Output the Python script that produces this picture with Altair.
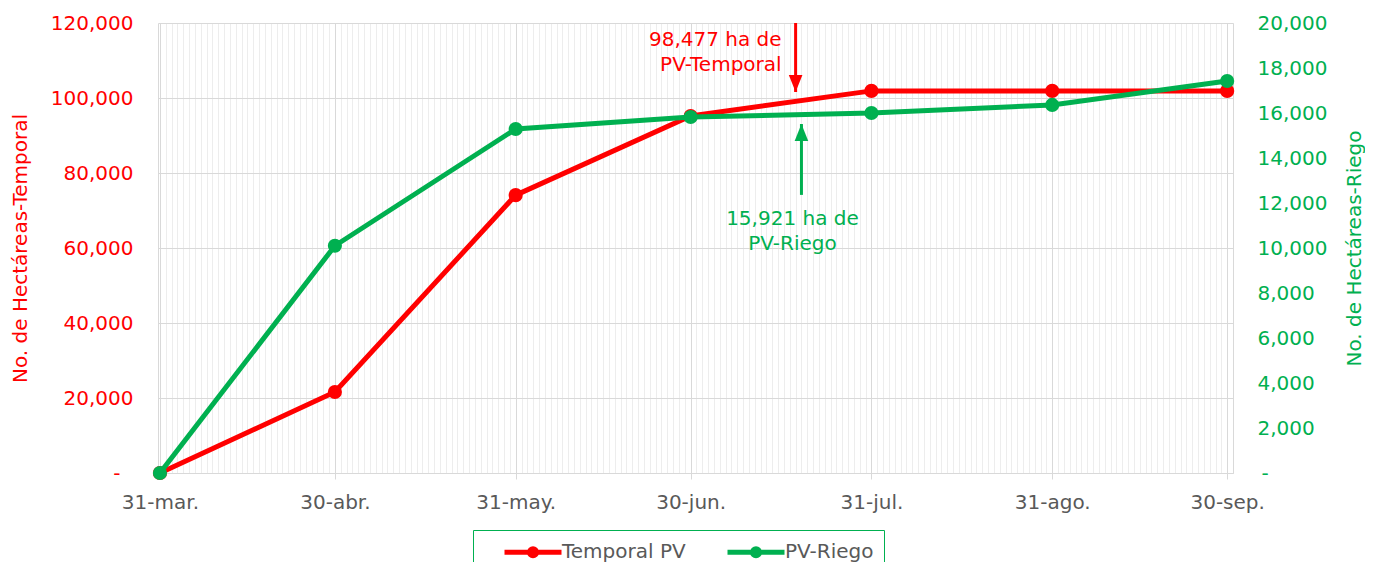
import altair as alt
import pandas as pd

# ---- data ----
fechas = ["2023-03-31", "2023-04-30", "2023-05-31", "2023-06-30",
          "2023-07-31", "2023-08-31", "2023-09-30"]
temporal = [0, 21600, 74100, 95200, 101900, 101900, 101900]
riego = [0, 10100, 15290, 15820, 16000, 16360, 17420]
series = ["Temporal PV", "PV-Riego"]
colores = ["#FF0000", "#00B050"]
meses = ["ene", "feb", "mar", "abr", "may", "jun", "jul", "ago", "sep", "oct", "nov", "dic"]

ann_fecha_t = "2023-07-18"
ann_texto_t = "98,477 ha de\nPV-Temporal"
ann_fecha_r = "2023-07-19"
ann_texto_r = "15,921 ha de\nPV-Riego"

ROJO, VERDE, GRIS = colores[0], colores[1], "#595959"
FONT = "DejaVu Sans"
FS = 20

df_t = pd.DataFrame({"fecha": fechas, "valor": temporal, "serie": series[0]})
df_r = pd.DataFrame({"fecha": fechas, "valor": riego, "serie": series[1]})
ann_t = pd.DataFrame({"fecha": [ann_fecha_t], "y0": [120000], "y1": [101600],
                      "yt": [115500], "texto": [ann_texto_t]})
ann_r = pd.DataFrame({"fecha": [ann_fecha_r], "y0": [12360], "y1": [15510],
                      "yt": [11290], "texto": [ann_texto_r]})

xscale = alt.Scale(type="utc", domain=[
    alt.DateTime(year=2023, month=3, date=30, hours=16, utc=True),
    alt.DateTime(year=2023, month=10, date=1, hours=0, utc=True)])

tick_vals = [alt.DateTime(year=int(f[:4]), month=int(f[5:7]), date=int(f[8:]), utc=True) for f in fechas]
mes_js = "[" + ",".join("'%s'" % m for m in meses) + "]"

axis_minor = alt.Axis(orient="bottom", tickCount=alt.TimeIntervalStep(interval="day", step=1),
                      labels=False, ticks=False, domain=False, grid=True,
                      gridColor="#EDEDED", title=None)
axis_main = alt.Axis(orient="bottom", values=tick_vals,
                     labelExpr="utcdate(datum.value) + '-' + " + mes_js + "[utcmonth(datum.value)] + '.'",
                     grid=True, gridColor="#D9D9D9", ticks=True, tickColor="#D9D9D9", tickSize=6,
                     tickOpacity={"condition": {"test": "utcmonth(datum.value) === 2", "value": 0}, "value": 1},
                     domain=True, domainColor="#D9D9D9", labelColor=GRIS, labelFontSize=FS,
                     labelFont=FONT, labelPadding=13, labelOverlap=False, labelFlush=False, title=None)

yscale_t = alt.Scale(domain=[0, 120000], nice=False)
yscale_r = alt.Scale(domain=[0, 20000], nice=False)

axis_t = alt.Axis(
    orient="left", values=list(range(0, 120001, 20000)),
    labelExpr="datum.value == 0 ? '-' : format(datum.value, ',')",
    labelColor=ROJO, labelFontSize=FS, labelFont=FONT,
    labelPadding={"condition": {"test": "datum.value === 0", "value": 38}, "value": 25},
    ticks=False, grid=True, gridColor="#D9D9D9", domain=True, domainColor="#D9D9D9",
    title="No. de Hectáreas-Temporal", titleColor=ROJO, titleFontSize=FS, titleFont=FONT,
    titleFontWeight="normal", titleAngle=270, titleX=-138, titleY=225,
    titleAlign="center", titleBaseline="middle")
axis_r = alt.Axis(
    orient="right", values=list(range(0, 20001, 2000)),
    labelExpr="datum.value == 0 ? '-' : format(datum.value, ',')",
    labelColor=VERDE, labelFontSize=FS, labelFont=FONT,
    labelPadding={"condition": {"test": "datum.value === 0", "value": 28}, "value": 24},
    ticks=False, grid=False, domain=True, domainColor="#D9D9D9",
    title="No. de Hectáreas-Riego", titleColor=VERDE, titleFontSize=FS, titleFont=FONT,
    titleFontWeight="normal", titleAngle=270, titleX=121, titleY=225,
    titleAlign="center", titleBaseline="middle")

color_scale = alt.Scale(domain=series, range=colores)
leg_symbol = "M-3,0L3,0M0.37,0A0.37,0.37,0,1,1,-0.37,0A0.37,0.37,0,1,1,0.37,0Z"
legend = alt.Legend(orient="none", legendX=315, legendY=507, direction="horizontal",
                    title=None, symbolType=leg_symbol, symbolSize=361, symbolStrokeWidth=5,
                    labelFontSize=FS, labelFont=FONT, labelColor=GRIS, labelOffset=17,
                    strokeColor=VERDE, padding=10, symbolOffset=38, columnPadding=20)


def capa(df, x_axis, y_axis, ann, yscale, color, text_dx, arrow_down):
    X = lambda f: alt.X(f + ":T", scale=xscale, axis=x_axis)
    Y = lambda f: alt.Y(f + ":Q", scale=yscale, axis=y_axis)
    line = alt.Chart(df).mark_line(strokeWidth=5, color=color).encode(
        x=X("fecha"), y=Y("valor"))
    pts = alt.Chart(df).mark_point(filled=True, size=200, opacity=1).encode(
        x=X("fecha"), y=Y("valor"),
        fill=alt.Fill("serie:N", scale=color_scale, legend=legend),
        stroke=alt.Stroke("serie:N", scale=color_scale, legend=legend),
        strokeWidth=alt.value(0))
    shaft = alt.Chart(ann).mark_rule(strokeWidth=3, color=color).encode(
        x=X("fecha"), y=Y("y0"), y2="y1:Q")
    head_shape = "M-0.8,-2L0.8,-2L0,0Z" if arrow_down else "M-0.8,2L0.8,2L0,0Z"
    head = alt.Chart(ann).mark_point(shape=head_shape, filled=True, size=289, opacity=1,
                                     color=color, strokeWidth=0).encode(
        x=X("fecha"), y=Y("y1"))
    txt = alt.Chart(ann).mark_text(color=color, fontSize=FS, font=FONT, lineBreak="\n",
                                   lineHeight=25, dx=text_dx,
                                   align="right" if arrow_down else "center",
                                   baseline="middle").encode(
        x=X("fecha"), y=Y("yt"), text="texto:N")
    return alt.layer(line, pts, shaft, head, txt)


izq = capa(df_t, axis_minor, axis_t, ann_t, yscale_t, ROJO, -14, True)
der = capa(df_r, axis_main, axis_r, ann_r, yscale_r, VERDE, -9, False)

chart = alt.layer(izq, der).resolve_scale(y="independent").resolve_axis(
    x="independent", y="independent").properties(
    width=1075, height=450,
    autosize=alt.AutoSizeParams(type="none"),
    padding={"left": 150, "top": 15, "right": 132, "bottom": 89},
).configure(font=FONT).configure_view(stroke=None)

chart.save("out.html", embed_options={"renderer": "svg", "actions": False})
